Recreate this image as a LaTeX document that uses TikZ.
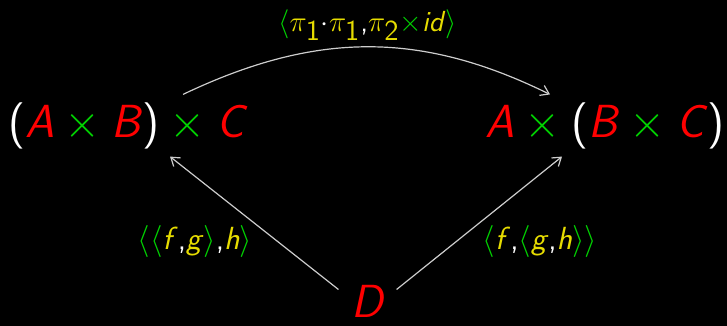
\RequirePackage{fix-cm}
\documentclass[tikz,border=0pt]{standalone}
\usetikzlibrary{arrows.meta,calc}
\definecolor{cred}{RGB}{255,0,0}
\definecolor{cgreen}{RGB}{0,210,0}
\definecolor{cyel}{RGB}{230,220,0}
\definecolor{cline}{RGB}{205,205,205}
\newcommand\ob[1]{\textcolor{cred}{\textit{#1}}}
\newcommand\tms{\textcolor{cgreen}{$\mskip\medmuskip\times\mskip\medmuskip$}}
\newcommand\stms{\textcolor{cgreen}{$\times$}}
\newcommand\lpar{\textcolor{white}{(}}
\newcommand\rpar{\textcolor{white}{)}}
\newcommand\yl[1]{\textcolor{cyel}{\textit{#1}}}
\newcommand\lang{\textcolor{cgreen}{$\langle$}}
\newcommand\rang{\textcolor{cgreen}{$\rangle$}}
\newcommand\cma{\textcolor{white}{,}}
\newcommand\ypi[1]{\textcolor{cyel}{$\pi_{\textsf{#1}}$}}
\begin{document}
\begin{tikzpicture}[x=0.5pt,y=-0.5pt,
  big/.style={inner sep=0pt, font=\fontsize{23.2}{28}\selectfont\sffamily},
  lab/.style={inner sep=0pt, font=\fontsize{14.5}{17}\selectfont\sffamily},
  blab/.style={inner sep=0pt, font=\fontsize{16}{19}\selectfont\sffamily},
  arr/.style={draw=cline, line width=0.6pt, -{Straight Barb[length=4pt,width=5.5pt]}}]
\fill[black] (0,0) rectangle (727,326);
\useasboundingbox (0,0) rectangle (727,326);
\node[big] (L) at (128,126) {\lpar\ob{A}\tms\ob{B}\rpar\tms\ob{C}};
\node[big] (R) at (605,126) {\ob{A}\tms\lpar\ob{B}\tms\ob{C}\rpar};
\node[big] (D) at (369,301) {\ob{D}};
\node[lab] (T) at (367.5,25) {\lang\ypi{1}\textcolor{white}{$\cdot$}\ypi{1}\cma\ypi{2}\stms\yl{id}\rang};
\node[blab] (LL) at (195,241) {\lang\lang\yl{f}\cma\yl{g}\rang\cma\yl{h}\rang};
\node[blab] (RL) at (540,241) {\lang\yl{f}\cma\lang\yl{g}\cma\yl{h}\rang\rang};
\draw[arr] ($(L.north east)+(-65,-8)$) .. controls (316,31) and (421,31) .. ($(R.north west)+(65,-8)$);
\draw[arr] ($(D.north west)+(-13,5)$) -- ($(L.south east)+(-78,7)$);
\draw[arr] ($(D.north east)+(10,5)$) -- ($(R.south west)+(77,7)$);
\end{tikzpicture}
\end{document}
